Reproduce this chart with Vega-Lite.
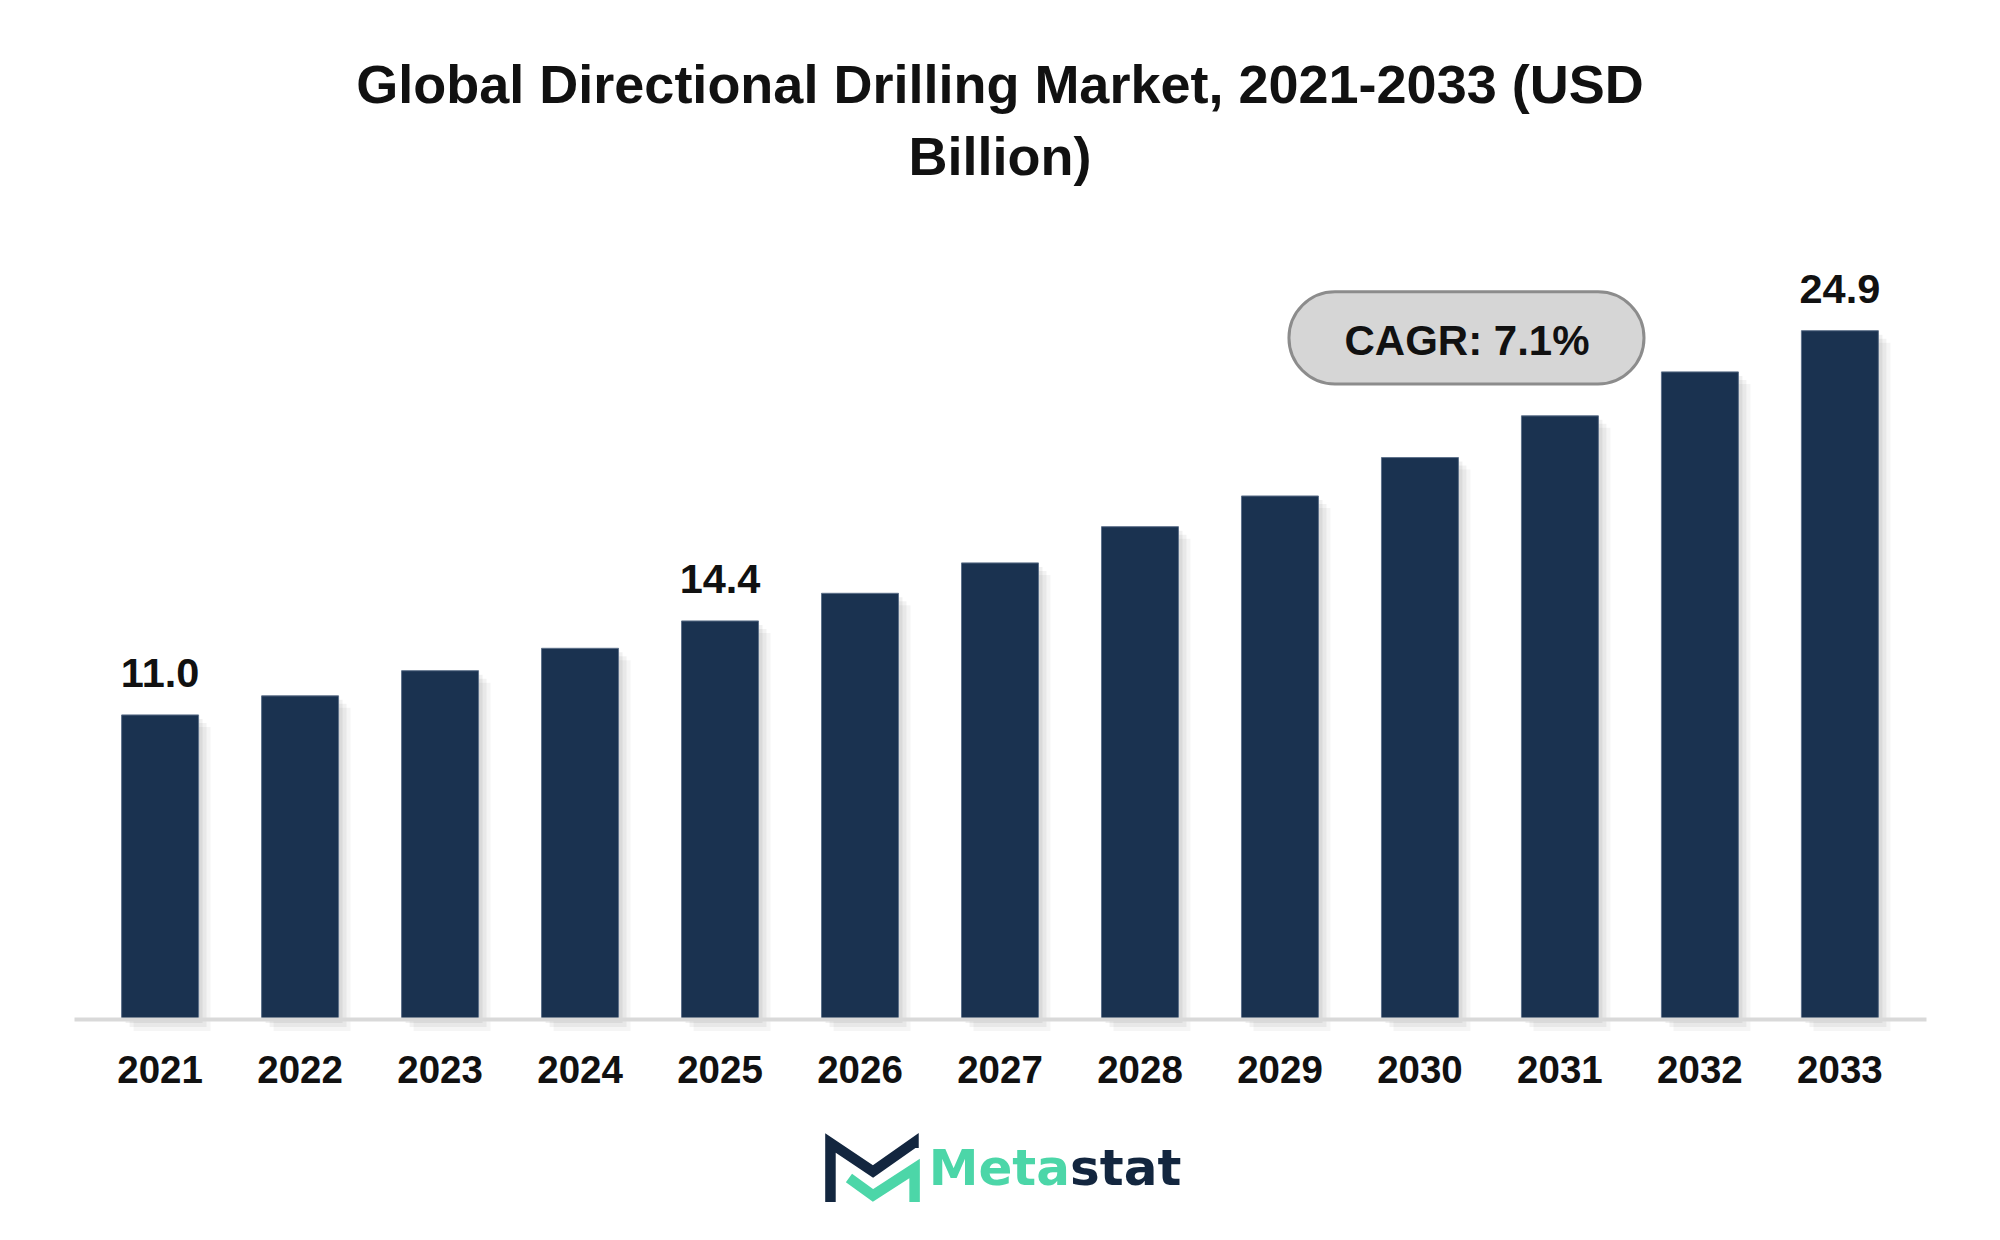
{
  "$schema": "https://vega.github.io/schema/vega-lite/v6.json",
  "autosize": {"type": "none"},
  "width": 1852,
  "height": 774,
  "padding": {"left": 74, "top": 245, "right": 74, "bottom": 221},
  "background": "#ffffff",
  "config": {"view": {"stroke": null}, "font": "Liberation Sans"},
  "title": {
    "text": ["Global Directional Drilling Market, 2021-2033 (USD", "Billion)"],
    "fontSize": 54,
    "font": "Liberation Sans",
    "fontWeight": "bold",
    "color": "#111111",
    "lineHeight": 72,
    "anchor": "middle",
    "frame": "group",
    "baseline": "bottom",
    "offset": 5,
    "dx": 0
  },
  "datasets": {
    "market": [
      {"year": "2021", "value": 11.0},
      {"year": "2022", "value": 11.69},
      {"year": "2023", "value": 12.6},
      {"year": "2024", "value": 13.41},
      {"year": "2025", "value": 14.4},
      {"year": "2026", "value": 15.4},
      {"year": "2027", "value": 16.5},
      {"year": "2028", "value": 17.81},
      {"year": "2029", "value": 18.92},
      {"year": "2030", "value": 20.31},
      {"year": "2031", "value": 21.82},
      {"year": "2032", "value": 23.41},
      {"year": "2033", "value": 24.9}
    ],
    "cagrBox": [
      {"x": 2029.064, "x2": 2031.6, "y": 26.31, "y2": 22.97, "t": "CAGR: 7.1%", "ty": 24.48, "tx": 2030.336}
    ],
    "logoIcon": [
      {"part": "dark", "o": 1, "x": 2025.789, "y": -6.62},
      {"part": "dark", "o": 2, "x": 2025.789, "y": -4.486},
      {"part": "dark", "o": 3, "x": 2026.093, "y": -5.517},
      {"part": "dark", "o": 4, "x": 2026.382, "y": -4.486},
      {"part": "dark", "o": 5, "x": 2026.382, "y": -4.667},
      {"part": "green", "o": 1, "x": 2025.921, "y": -5.752},
      {"part": "green", "o": 2, "x": 2026.093, "y": -6.385},
      {"part": "green", "o": 3, "x": 2026.39, "y": -5.408},
      {"part": "green", "o": 4, "x": 2026.39, "y": -6.62}
    ],
    "logoText": [
      {"part": "green", "t": "Meta", "x": 2027.5, "y": -6.0, "side": "right"},
      {"part": "dark", "t": "stat", "x": 2027.5, "y": -6.0, "side": "left"}
    ]
  },
  "layer": [
    {
      "data": {"name": "market"},
      "encoding": {
        "x": {
          "field": "year",
          "type": "ordinal",
          "scale": {"paddingInner": 0.45, "paddingOuter": 0.34},
          "axis": {
            "title": null,
            "labelAngle": 0,
            "labelFontSize": 38.5,
            "labelFont": "Liberation Sans",
            "labelFontWeight": "bold",
            "labelColor": "#111111",
            "labelPadding": 33,
            "ticks": false,
            "domainColor": "#d9d9d9",
            "domainWidth": 4,
            "zindex": 1
          }
        },
        "y": {
          "field": "value",
          "type": "quantitative",
          "scale": {"domain": [0, 28], "nice": false},
          "axis": null
        }
      },
      "layer": [
        {"mark": {"type": "bar", "color": "#000000", "opacity": 0.06, "xOffset": 4, "yOffset": 4, "y2Offset": 6}},
        {"mark": {"type": "bar", "color": "#000000", "opacity": 0.05, "xOffset": 8, "yOffset": 8, "y2Offset": 12}},
        {"mark": {"type": "bar", "color": "#000000", "opacity": 0.04, "xOffset": 12, "yOffset": 12, "y2Offset": 18}},
        {"mark": {"type": "bar", "color": "#1a3250", "stroke": "#5d7089", "strokeWidth": 1}},
        {
          "transform": [{"filter": {"field": "year", "oneOf": ["2021", "2025", "2033"]}}],
          "mark": {"type": "text", "fontSize": 41.5, "font": "Liberation Sans", "fontWeight": "bold", "color": "#111111", "baseline": "alphabetic", "dy": -28},
          "encoding": {"text": {"field": "value", "type": "quantitative", "format": ".1f"}}
        }
      ]
    },
    {
      "layer": [
        {
          "data": {"name": "cagrBox"},
          "mark": {"type": "rect", "fill": "#d6d6d6", "stroke": "#8c8c8c", "strokeWidth": 3, "cornerRadius": 46},
          "encoding": {
            "x": {"field": "x", "type": "quantitative", "scale": {"domain": [2020.3857, 2033.6143], "nice": false, "zero": false}, "axis": null},
            "x2": {"field": "x2"},
            "y": {"field": "y", "type": "quantitative", "scale": {"domain": [0, 28], "nice": false}, "axis": null},
            "y2": {"field": "y2"}
          }
        },
        {
          "data": {"name": "cagrBox"},
          "mark": {"type": "text", "fontSize": 42, "font": "Liberation Sans", "fontWeight": "bold", "color": "#111111", "align": "center", "baseline": "middle"},
          "encoding": {
            "x": {"field": "tx", "type": "quantitative", "scale": {"domain": [2020.3857, 2033.6143], "nice": false, "zero": false}, "axis": null},
            "y": {"field": "ty", "type": "quantitative", "scale": {"domain": [0, 28], "nice": false}, "axis": null},
            "text": {"field": "t"}
          }
        },
        {
          "data": {"name": "logoIcon"},
          "mark": {"type": "line", "strokeWidth": 10.5, "strokeJoin": "miter", "strokeCap": "butt", "strokeMiterLimit": 10},
          "encoding": {
            "x": {"field": "x", "type": "quantitative", "scale": {"domain": [2020.3857, 2033.6143], "nice": false, "zero": false}, "axis": null},
            "y": {"field": "y", "type": "quantitative", "scale": {"domain": [0, 28], "nice": false}, "axis": null},
            "color": {"field": "part", "type": "nominal", "scale": {"domain": ["dark", "green"], "range": ["#13263f", "#4cd6a8"]}, "legend": null},
            "detail": {"field": "part"},
            "order": {"field": "o", "type": "quantitative"}
          }
        },
        {
          "data": {"name": "logoText"},
          "transform": [{"filter": {"field": "side", "equal": "right"}}],
          "mark": {"type": "text", "fontSize": 50, "font": "DejaVu Sans", "fontWeight": "bold", "align": "right", "baseline": "alphabetic"},
          "encoding": {
            "x": {"field": "x", "type": "quantitative", "scale": {"domain": [2020.3857, 2033.6143], "nice": false, "zero": false}, "axis": null},
            "y": {"field": "y", "type": "quantitative", "scale": {"domain": [0, 28], "nice": false}, "axis": null},
            "color": {"field": "part", "type": "nominal", "scale": {"domain": ["dark", "green"], "range": ["#13263f", "#4cd6a8"]}, "legend": null},
            "text": {"field": "t"}
          }
        },
        {
          "data": {"name": "logoText"},
          "transform": [{"filter": {"field": "side", "equal": "left"}}],
          "mark": {"type": "text", "fontSize": 50, "font": "DejaVu Sans", "fontWeight": "bold", "align": "left", "baseline": "alphabetic"},
          "encoding": {
            "x": {"field": "x", "type": "quantitative", "scale": {"domain": [2020.3857, 2033.6143], "nice": false, "zero": false}, "axis": null},
            "y": {"field": "y", "type": "quantitative", "scale": {"domain": [0, 28], "nice": false}, "axis": null},
            "color": {"field": "part", "type": "nominal", "scale": {"domain": ["dark", "green"], "range": ["#13263f", "#4cd6a8"]}, "legend": null},
            "text": {"field": "t"}
          }
        }
      ]
    }
  ],
  "resolve": {"scale": {"x": "independent"}, "axis": {"x": "independent"}}
}
